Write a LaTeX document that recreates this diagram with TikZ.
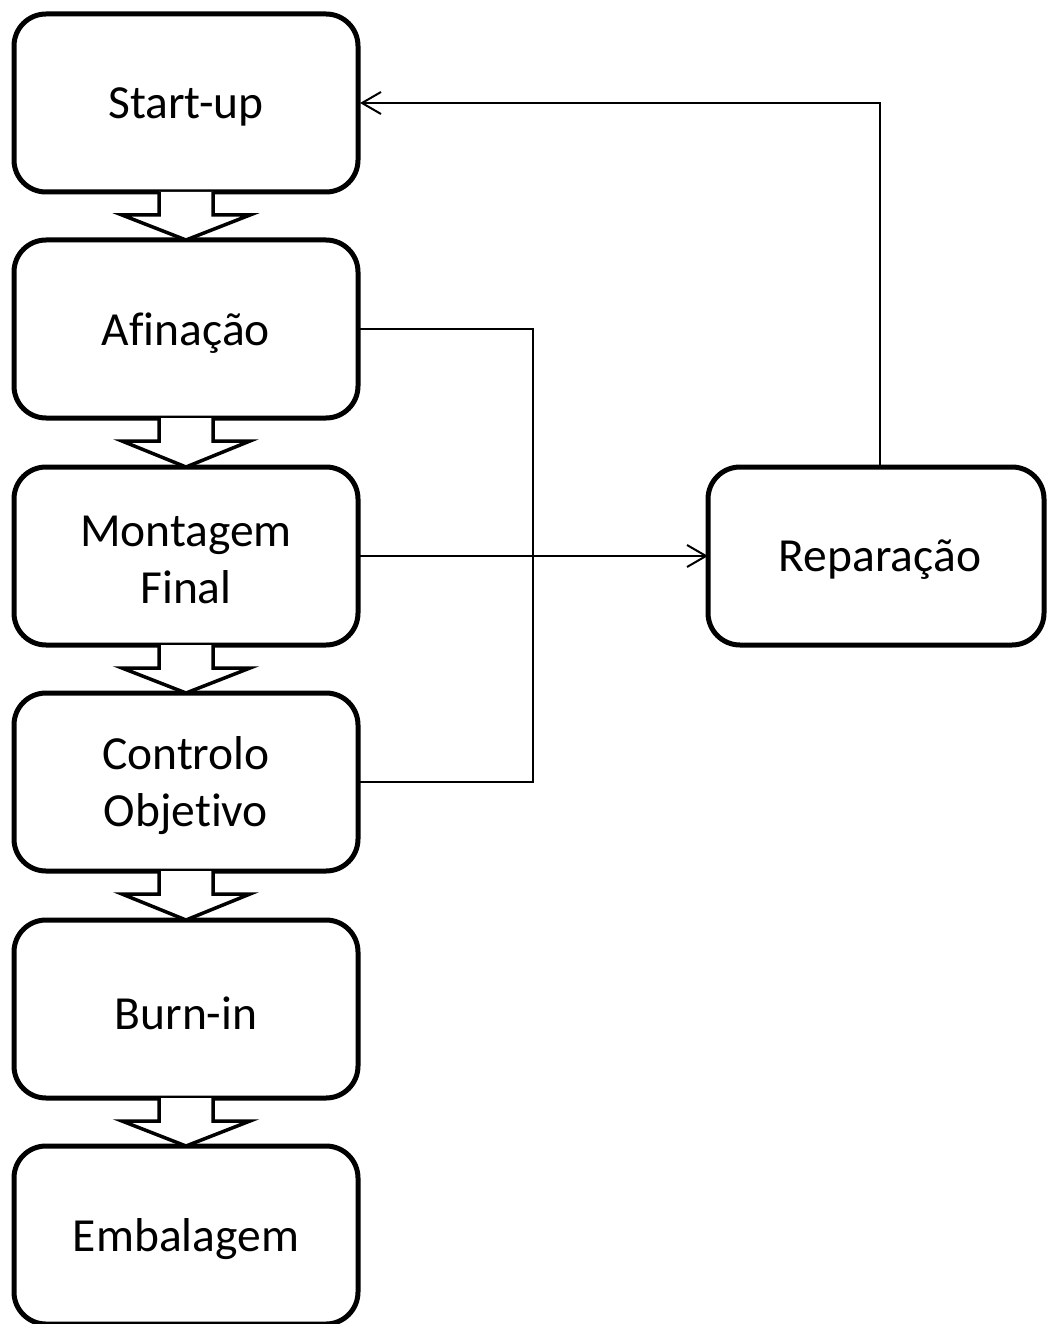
\documentclass[tikz,border=0pt]{standalone}
\usepackage{fontspec}
\setmainfont{Carlito}[Ligatures=NoCommon]
\usetikzlibrary{arrows.meta,calc}
\begin{document}
\begin{tikzpicture}[x=1pt,y=-1pt,
  box/.style={draw,line width=5pt,rounded corners=32pt,minimum width=344pt,minimum height=178pt,
    align=center,inner sep=0pt,outer sep=0pt,font=\fontsize{47.5}{57}\selectfont},
  txt/.style={align=center,inner sep=0pt,font=\fontsize{47.5}{57}\selectfont},
  blockarrow/.style={draw,line width=3.5pt,line join=miter,fill=white},
  conn/.style={line width=2pt},
  tip/.style={-{Straight Barb[length=19pt,width=22pt,line width=2pt]}}]
\useasboundingbox (0,0) rectangle (1047,1324);
\node[box] (s) at (186,103) {};
\node[box] (a) at (186,329) {};
\node[box] (m) at (186,556) {};
\node[box] (c) at (186,782) {};
\node[box] (b) at (186,1009) {};
\node[box] (e) at (186,1235) {};
\node[box,minimum width=336pt] (r) at (876,556) {};
\node[txt] (st) at ($(s.center)+(0,4)$) {Start-up};
\node[txt] (at) at ($(a.center)+(0,4)$) {Afinação};
\node[txt] (mt) at ($(m.center)+(0,4)$) {Montagem\\Final};
\node[txt] (ct) at ($(c.center)+(0,4)$) {Controlo\\Objetivo};
\node[txt] (bt) at ($(b.center)+(0,4)$) {Burn-in};
\node[txt] (et) at ($(e.center)+(0,4)$) {Embalagem};
\node[txt] (rt0) at ($(r.center)+(4,4)$) {Reparação};
\foreach \u/\v in {s/a,a/m,m/c,c/b,b/e}{
  \draw[blockarrow] ($(\u.south)+(-27,0)$) -- ($(\u.south)+(-27,23)$) -- ($(\u.south)+(-64,23)$)
    -- (\v.north) -- ($(\u.south)+(64,23)$) -- ($(\u.south)+(27,23)$) -- ($(\u.south)+(27,0)$);
}
\coordinate (j1) at (533,329);
\coordinate (j2) at (533,782);
\coordinate (rt) at (880,0);
\draw[conn] (a.east) -- (j1) -- (j2) -- (c.east);
\draw[conn,tip] (m.east) -- (r.west);
\draw[conn,tip] (r.north -| rt) |- ($(s.east)+(2,0)$);
\end{tikzpicture}
\end{document}
